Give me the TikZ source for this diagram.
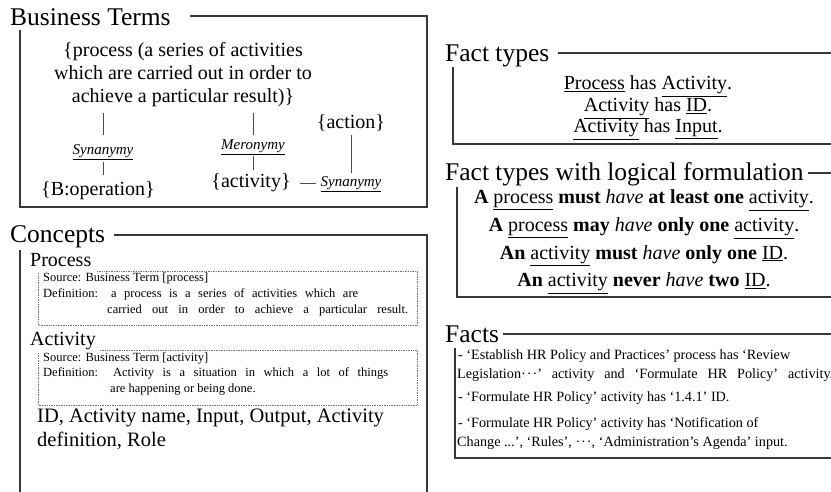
\documentclass[tikz,border=0pt]{standalone}
\usepackage{fontspec}
\setmainfont{Liberation Serif}
\begin{document}
\begin{tikzpicture}[x=1pt,y=-1pt,
  frame/.style={draw=black!78, line width=1.2pt},
  dotframe/.style={draw=black!55, densely dotted, line width=0.7pt},
  link/.style={draw=black!70, line width=0.8pt},
  head/.style={anchor=base west, inner sep=0, font=\fontsize{25.5}{30}\selectfont},
  sub/.style={anchor=base west, inner sep=0, font=\fontsize{20}{24}\selectfont},
  small/.style={anchor=base west, inner sep=0, font=\fontsize{12.5}{15}\selectfont},
  term/.style={anchor=base, inner sep=0, font=\fontsize{20}{23}\selectfont},
  rel/.style={anchor=base, inner sep=0, font=\fontsize{15}{18}\selectfont\itshape},
  fact/.style={anchor=base west, inner sep=0, font=\fontsize{14.2}{17}\selectfont},
  rule/.style={anchor=base, inner sep=0, font=\fontsize{20}{24}\selectfont}]

\fill[white] (0,0) rectangle (831,492);
\useasboundingbox (0,0) rectangle (831,492);

% ---------- Business Terms ----------
\node[head] (bt) at (10,26) {Business Terms};
\draw[frame] (190,16) -- (427,16) -- (427,207) -- (20,207) -- (20,30);

% last line of the term sits on the node's base
\node[term, align=center] (proc) at (183,103)
  {\{process (a series of activities\\which are carried out in order to\\achieve a particular result)\}};
\node[rel] (syn1) at (103,155) {\underline{Synanymy}};
\node[term] (bop) at (98,196) {\{B:operation\}};
\node[rel] (mer) at (253,150) {\underline{Meronymy}};
\node[term] (act) at (251,188) {\{activity\}};
\node[term] (action) at (351,129) {\{action\}};
\node[rel] (syn2) at (351,187) {\underline{Synanymy}};

\draw[link, shorten <=5.5pt, shorten >=10pt] (proc.south -| syn1) -- (syn1.north);
\draw[link, shorten <=1.5pt, shorten >=7pt] (syn1.south) -- (syn1.south |- bop.north);
\draw[link, shorten <=5.5pt, shorten >=5pt] (proc.south -| mer) -- (mer.north);
\draw[link, shorten <=1pt, shorten >=4pt] (mer.south) -- (mer.south |- act.north);
\draw[link, shorten <=3.5pt, shorten >=4pt] (action.south) -- (action.south |- syn2.north);
\draw[link, shorten <=9.5pt, shorten >=4.5pt] (act.east) -- (act.east -| syn2.west);

% ---------- Concepts ----------
\node[head] (cc) at (10,243) {Concepts};
\draw[frame] (114,235) -- (427,235) -- (427,492);
\draw[frame] (20,250) -- (20,492);

\node[sub] (cproc) at (30,266) {Process};
\draw[dotframe] (97,271) -- (417,271) -- (417,325) -- (38,325) -- (38,273);
\node[small] (ps) at (43,282) {Source: Business Term [process]};
\node[small] (pd1) at (43,297.5) {\makebox[315pt][s]{Definition: a process is a series of activities which are}};
\node[small] (pd2) at (107,313) {\makebox[301pt][s]{carried out in order to achieve a particular result.}};

\node[sub] (cact) at (30,345) {Activity};
\draw[dotframe] (100,350) -- (417,350) -- (417,405) -- (38,405) -- (38,352);
\node[small] (as) at (43,361) {Source: Business Term [activity]};
\node[small] (ad1) at (43,376.5) {\makebox[345pt][s]{Definition: Activity is a situation in which a lot of things}};
\node[small] (ad2) at (110,392) {are happening or being done.};

% last line sits on the node's base
\node[anchor=base west, inner sep=0, font=\fontsize{20.5}{24}\selectfont, align=left] (attrs) at (37,446)
  {ID, Activity name, Input, Output, Activity\\definition, Role};

% ---------- Fact types ----------
\node[head] (ft) at (445,62) {Fact types};
\draw[frame] (558,53) -- (831,53);
\draw[frame] (453,67) -- (453,144) -- (831,144);
\node[rule] (ft1) at (648,90) {\underline{Process} has \underline{Activity}.};
\node[rule] (ft2) at (648,112) {\underline{Activity} has \underline{ID}.};
\node[rule] (ft3) at (648,133) {\underline{Activity} has \underline{Input}.};

% ---------- Fact types with logical formulation ----------
\node[head] (ftl) at (445,181) {Fact types with logical formulation};
\draw[frame] (808,173) -- (831,173);
\draw[frame] (457,187) -- (457,297) -- (831,297);
\node[rule] (r1) at (644,204) {\textbf{A} \underline{process} \textbf{must} \textit{have} \textbf{at least one} \underline{activity}.};
\node[rule] (r2) at (644,232) {\textbf{A} \underline{process} \textbf{may} \textit{have} \textbf{only one} \underline{activity}.};
\node[rule] (r3) at (644,259) {\textbf{An} \underline{activity} \textbf{must} \textit{have} \textbf{only one} \underline{ID}.};
\node[rule] (r4) at (644,287) {\textbf{An} \underline{activity} \textbf{never} \textit{have} \textbf{two} \underline{ID}.};

% ---------- Facts ----------
\node[head] (fc) at (445,342) {Facts};
\draw[frame] (503,334) -- (831,334);
\draw[frame] (455,348) -- (455,458) -- (831,458);
\node[fact] (f1) at (458,359) {- ‘Establish HR Policy and Practices’ process has ‘Review};
\node[fact] (f2) at (457,378) {\makebox[376pt][s]{Legislation·\kern1pt·\kern1pt·’ activity and ‘Formulate HR Policy’ activity.}};
\node[fact] (f3) at (458,401) {- ‘Formulate HR Policy’ activity has ‘1.4.1’ ID.};
\node[fact] (f4) at (458,427) {- ‘Formulate HR Policy’ activity has ‘Notification of};
\node[fact] (f5) at (457,446) {Change ...’, ‘Rules’, ·\kern1pt·\kern1pt·, ‘Administration’s Agenda’ input.};
\end{tikzpicture}
\end{document}
